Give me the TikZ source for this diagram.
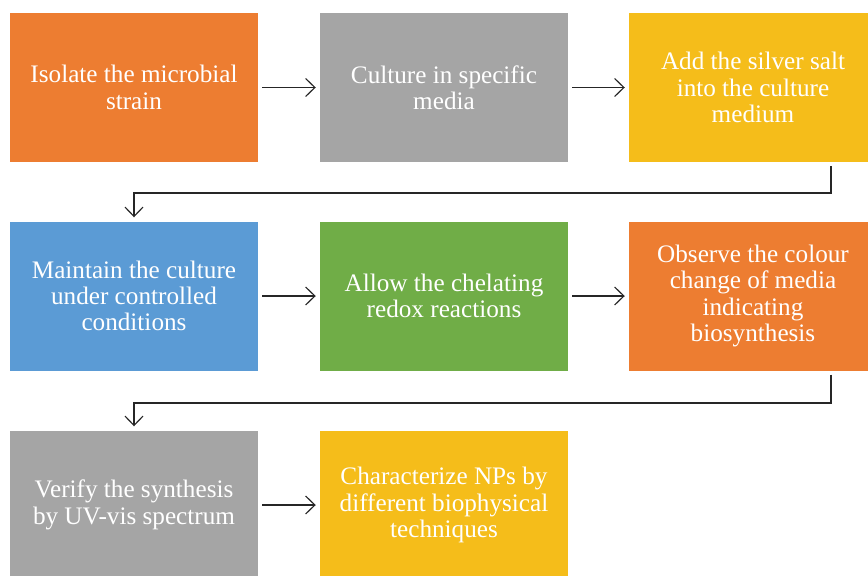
\documentclass[tikz,border=0pt]{standalone}
\usepackage{fontspec}
\setmainfont{Liberation Serif}
\newfontfamily\boxfont{Liberation Serif}
\usepackage{xcolor}
\usetikzlibrary{arrows.meta,positioning}

\definecolor{stepOrange}{HTML}{ED7D31}
\definecolor{stepGray}{HTML}{A5A5A5}
\definecolor{stepYellow}{HTML}{F5BD1A}
\definecolor{stepBlue}{HTML}{5B9BD5}
\definecolor{stepGreen}{HTML}{70AD47}

\begin{document}
\begin{tikzpicture}[
x=0.03cm, y=-0.03cm,
box/.style={
    rectangle,
    minimum width=7.44cm,
    minimum height=4.47cm,
    align=center,
    text=white,
    inner sep=0pt,
    font=\boxfont\fontsize{21.5}{22.5}\selectfont
},
arr/.style={-{Straight Barb[length=2.8mm,width=5.4mm]}, line width=1pt, draw=black!85,
    shorten <=0.12cm, shorten >=0.12cm}
]
\useasboundingbox (0,0) rectangle (868,575);

\node[box, fill=stepOrange] (isolate) at (134,87.5) {Isolate the microbial\\strain};
\node[box, fill=stepGray] (culture) at (444,87.5) {Culture in specific\\media};
\node[box, fill=stepYellow] (silver) at (753,87.5) {Add the silver salt\\into the culture\\medium};

\node[box, fill=stepBlue] (maintain) at (134,296) {Maintain the culture\\under controlled\\conditions};
\node[box, fill=stepGreen] (chelate) at (444,296) {Allow the chelating\\redox reactions};
\node[box, fill=stepOrange] (colour) at (753,296) {Observe the colour\\change of media\\indicating\\biosynthesis};

\node[box, fill=stepGray] (verify) at (134,505) {Verify the synthesis\\by UV-vis spectrum};
\node[box, fill=stepYellow] (charact) at (444,505) {Characterize NPs by\\different biophysical\\techniques};

% turns between rows
\coordinate (turnA) at (831,193);
\coordinate (turnB) at (831,403);

\draw[arr] (isolate) -- (culture);
\draw[arr] (culture) -- (silver);
\draw[arr] (silver.south -| turnA) -- (turnA) -| (maintain.north);
\draw[arr] (maintain) -- (chelate);
\draw[arr] (chelate) -- (colour);
\draw[arr] (colour.south -| turnB) -- (turnB) -| (verify.north);
\draw[arr] (verify) -- (charact);

\end{tikzpicture}
\end{document}
